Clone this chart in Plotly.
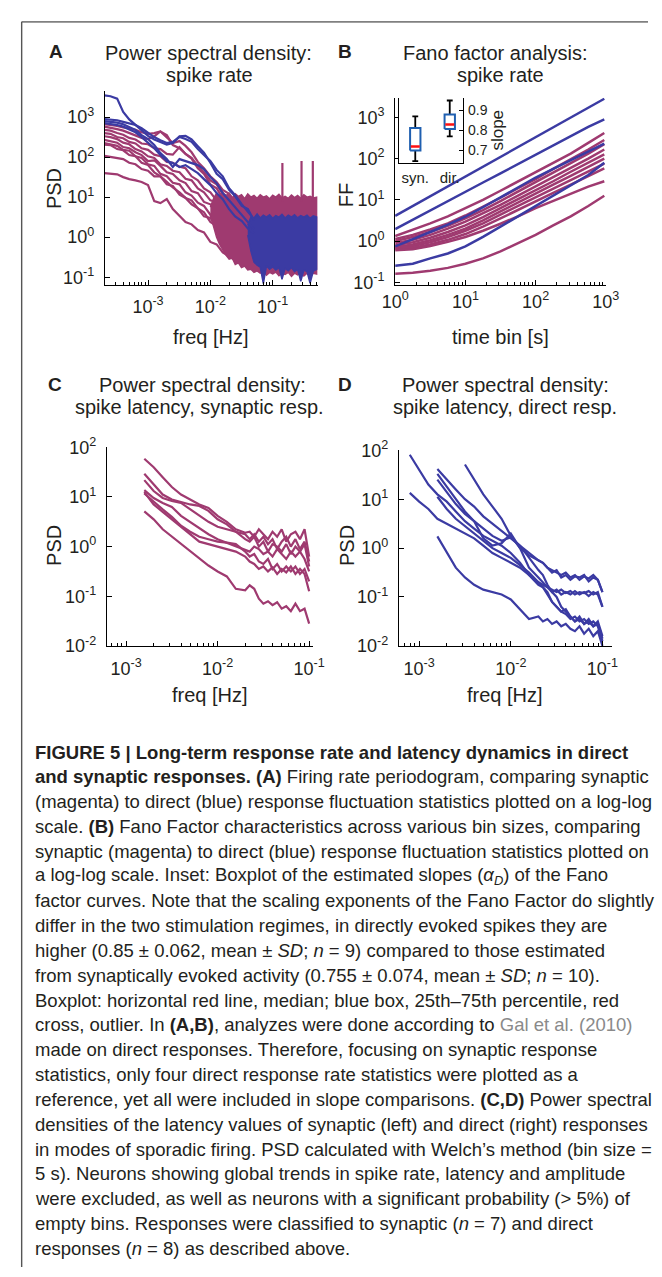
import plotly.graph_objects as go

W, H = 662, 1277
MAG = "#9f3a70"
BLUE = "#3b3ba3"
TXT = "#231f20"
FONT = "Liberation Sans, Arial, sans-serif"
CAP_FONT = "Liberation Sans, Arial, sans-serif"

# ---------------- Panel A: PSD of spike rate (values are log10 PSD) ----------------
freq_a = [2.0e-4, 2.5e-4, 3.2e-4, 4.0e-4, 5.0e-4, 6.3e-4, 7.9e-4, 1.0e-3, 1.26e-3, 1.58e-3,
          2.0e-3, 2.5e-3, 3.2e-3, 4.0e-3, 5.0e-3, 6.3e-3, 7.9e-3, 1.0e-2, 1.26e-2, 1.58e-2,
          2.0e-2, 2.5e-2, 3.2e-2, 4.0e-2, 5.0e-2]
psd_a_syn = [
    [2.82, 2.80, 2.78, 2.74, 2.72, 2.68, 2.62, 2.58, 2.60, 2.64, 2.50, 2.35, 2.40, 2.28, 2.12, 1.88, 1.72, 1.52, 1.38, 1.18, 1.08, 0.88, 0.82, 0.68, 0.62],
    [2.76, 2.74, 2.70, 2.66, 2.60, 2.55, 2.48, 2.45, 2.52, 2.64, 2.55, 2.30, 2.22, 2.08, 1.98, 1.78, 1.62, 1.42, 1.32, 1.08, 1.02, 0.82, 0.78, 0.62, 0.58],
    [2.68, 2.66, 2.60, 2.56, 2.48, 2.44, 2.34, 2.32, 2.22, 2.20, 2.08, 2.06, 2.25, 2.08, 1.96, 1.72, 1.58, 1.32, 1.22, 0.98, 0.88, 0.68, 0.62, 0.48, 0.46],
    [2.60, 2.58, 2.50, 2.47, 2.38, 2.34, 2.22, 2.18, 2.06, 2.02, 1.88, 1.86, 1.76, 1.72, 1.52, 1.42, 1.22, 1.12, 0.92, 0.82, 0.68, 0.62, 0.48, 0.47, 0.38],
    [2.52, 2.50, 2.45, 2.36, 2.32, 2.20, 2.14, 2.02, 1.98, 1.82, 1.78, 1.66, 1.62, 1.46, 1.42, 1.22, 1.12, 0.92, 0.88, 0.72, 0.62, 0.48, 0.47, 0.38, 0.36],
    [2.43, 2.40, 2.36, 2.25, 2.22, 2.12, 2.05, 1.90, 1.92, 1.78, 1.62, 1.58, 1.42, 1.35, 1.15, 1.10, 0.88, 0.82, 0.65, 0.60, 0.42, 0.45, 0.30, 0.35, 0.25],
    [2.35, 2.32, 2.28, 2.18, 2.16, 2.02, 1.98, 1.82, 1.78, 1.58, 1.52, 1.36, 1.32, 1.12, 1.04, 0.86, 0.78, 0.56, 0.52, 0.36, 0.32, 0.22, 0.24, 0.16, 0.18],
    [2.31, 2.30, 2.20, 2.17, 2.05, 2.02, 1.86, 1.80, 1.62, 1.52, 1.32, 1.28, 1.06, 0.98, 0.82, 0.72, 0.52, 0.48, 0.26, 0.22, 0.06, 0.08, -0.04, 0.02, -0.08],
    [2.03, 2.00, 1.98, 1.95, 1.86, 1.82, 1.70, 1.66, 1.52, 1.52, 1.38, 1.24, 1.12, 0.98, 0.92, 0.72, 0.62, 0.38, 0.28, 0.06, 0.02, -0.14, -0.16, -0.24, -0.22],
    [1.60, 1.58, 1.57, 1.50, 1.45, 1.42, 1.38, 1.30, 0.90, 0.85, 0.95, 0.70, 0.52, 0.38, 0.32, 0.18, 0.12, -0.12, -0.18, -0.38, -0.48, -0.58, -0.56, -0.64, -0.62],
]
psd_a_dir = [
    [3.54, 3.52, 3.46, 3.13, 2.94, 2.80, 2.68, 2.53, 2.44, 2.37, 2.31, 2.35, 2.52, 2.53, 2.44, 2.27, 2.11, 1.86, 1.58, 1.45, 1.18, 1.02, 0.78, 0.70, 0.42],
    [2.95, 2.93, 2.92, 2.88, 2.85, 2.80, 2.72, 2.60, 2.50, 2.42, 2.35, 2.38, 2.50, 2.45, 2.38, 2.20, 2.05, 1.90, 1.68, 1.52, 1.22, 1.05, 0.82, 0.62, 0.45],
    [2.90, 2.88, 2.86, 2.82, 2.75, 2.68, 2.55, 2.45, 2.30, 2.10, 1.95, 1.75, 1.95, 1.90, 1.85, 1.80, 1.70, 1.50, 1.35, 1.10, 0.92, 0.75, 0.55, 0.38, 0.20],
    [2.85, 2.83, 2.80, 2.76, 2.70, 2.62, 2.50, 2.35, 2.22, 2.05, 1.90, 1.85, 1.75, 1.80, 1.70, 1.60, 1.45, 1.30, 1.10, 0.95, 0.70, 0.52, 0.40, 0.22, 0.10],
]
# dense high-frequency parts of panel A: envelopes of the noisy band (log10 PSD)
band_freq_syn = [0.0100, 0.0112, 0.0126, 0.0141, 0.0158, 0.0178,
                 0.0200, 0.0224, 0.0251, 0.0282, 0.0316, 0.0355, 0.0398, 0.0447, 0.0501, 0.0562,
                 0.0631, 0.0708, 0.0794, 0.0891, 0.100, 0.112, 0.126, 0.141, 0.158, 0.178,
                 0.200, 0.224, 0.251, 0.282, 0.316, 0.355, 0.398, 0.447, 0.51]
band_syn_hi = [0.75, 0.95, 1.10, 1.02, 1.12, 1.02, 1.10, 0.98, 1.08, 1.02, 1.06,
               0.96, 1.08, 1.00, 1.04, 0.97, 1.06, 1.00, 1.03, 0.96, 1.05, 1.00, 1.07, 0.98, 1.02, 0.97,
               1.05, 0.99, 1.04, 0.97, 1.06, 1.00, 1.02, 0.98, 1.00]
band_syn_lo = [0.55, 0.25, 0.00, -0.18, -0.32, -0.45, -0.55, -0.52, -0.68,
               -0.64, -0.76, -0.72, -0.82, -0.80, -0.88, -0.84, -0.90, -0.86, -0.95, -0.88, -0.92,
               -0.87, -0.96, -0.90, -0.93, -0.88, -0.98, -0.90, -0.94, -0.89, -0.97, -0.90, -0.95,
               -0.90, -0.92]
band_freq_dir = [0.0398, 0.0447, 0.0501, 0.0562, 0.0631, 0.0708, 0.0794, 0.0891, 0.100,
                 0.112, 0.126, 0.141, 0.158, 0.178, 0.200, 0.224, 0.251, 0.282, 0.316, 0.355,
                 0.398, 0.447, 0.51]
band_dir_hi = [0.30, 0.50, 0.48, 0.58, 0.48, 0.55, 0.50, 0.56, 0.47, 0.54, 0.50, 0.57, 0.48,
               0.55, 0.50, 0.56, 0.48, 0.54, 0.50, 0.55, 0.47, 0.53, 0.50]
band_dir_lo = [0.05, -0.35, -0.62, -0.70, -0.75, -1.16, -0.72, -0.80, -0.74, -0.82, -0.76,
               -1.05, -0.78, -0.84, -0.76, -0.86, -0.80, -1.10, -0.82, -0.86, -1.15, -0.85, -0.80]
spike_freq_syn = [0.143, 0.29, 0.44]
spike_top_syn = [1.85, 1.90, 1.90]

# ---------------- Panel B: Fano factor (log10 FF) ----------------
time_b = [1.0, 1.78, 3.16, 5.62, 10.0, 17.8, 31.6, 56.2, 100, 178, 316, 562, 950]
ff_syn = [
    [0.12, 0.27, 0.43, 0.60, 0.80, 1.00, 1.22, 1.45, 1.68, 1.90, 2.12, 2.38, 2.62],
    [0.05, 0.15, 0.28, 0.43, 0.62, 0.83, 1.05, 1.28, 1.50, 1.75, 1.98, 2.22, 2.45],
    [0.00, 0.10, 0.22, 0.37, 0.55, 0.75, 0.97, 1.20, 1.42, 1.65, 1.88, 2.12, 2.35],
    [-0.05, 0.03, 0.15, 0.30, 0.47, 0.67, 0.88, 1.10, 1.32, 1.55, 1.78, 2.00, 2.22],
    [-0.10, -0.03, 0.08, 0.22, 0.38, 0.58, 0.80, 1.02, 1.22, 1.45, 1.68, 1.90, 2.10],
    [-0.15, -0.08, 0.02, 0.15, 0.30, 0.50, 0.72, 0.93, 1.15, 1.37, 1.58, 1.80, 2.00],
    [-0.17, -0.12, -0.03, 0.10, 0.25, 0.43, 0.64, 0.85, 1.05, 1.27, 1.48, 1.68, 1.88],
    [-0.20, -0.16, -0.08, 0.03, 0.17, 0.35, 0.55, 0.76, 0.96, 1.17, 1.37, 1.57, 1.76],
    [-0.22, -0.20, -0.12, -0.02, 0.10, 0.25, 0.42, 0.60, 0.80, 0.98, 1.15, 1.32, 1.45],
    [-0.79, -0.77, -0.72, -0.65, -0.55, -0.42, -0.25, -0.05, 0.15, 0.38, 0.60, 0.85, 1.10],
]
ff_dir = [
    [0.61, 0.85, 1.09, 1.32, 1.56, 1.80, 2.04, 2.28, 2.52, 2.76, 2.99, 3.23, 3.45],
    [0.29, 0.52, 0.74, 0.97, 1.19, 1.42, 1.64, 1.87, 2.09, 2.32, 2.54, 2.77, 2.95],
    [-0.13, 0.04, 0.22, 0.40, 0.59, 0.82, 1.06, 1.30, 1.54, 1.75, 1.96, 2.17, 2.36],
    [-0.60, -0.55, -0.42, -0.30, -0.13, 0.10, 0.35, 0.60, 0.87, 1.10, 1.35, 1.60, 1.90],
]
# inset boxplot of slopes
slope_groups = ["syn.", "dir."]
slope_lo = [0.646, 0.770]
slope_q1 = [0.700, 0.807]
slope_med = [0.720, 0.830]
slope_q3 = [0.812, 0.880]
slope_hi = [0.870, 0.950]

# ---------------- Panel C: latency PSD, synaptic (log10 PSD) ----------------
freq_c = [0.00158, 0.0020, 0.00251, 0.00316, 0.00398, 0.00501, 0.00631, 0.00794, 0.0100,
          0.0126, 0.0158, 0.0200, 0.0224, 0.0251, 0.0282, 0.0316, 0.0355, 0.0398, 0.0447,
          0.0501, 0.0562, 0.0631, 0.0708, 0.0794, 0.0891, 0.100]
psd_c = [
    [1.77, 1.60, 1.40, 1.20, 1.05, 0.95, 0.85, 0.78, 0.62, 0.50, 0.35, 0.28, 0.30, 0.20, 0.35, 0.25, 0.15, 0.30, 0.20, 0.35, 0.10, 0.25, 0.30, 0.15, 0.35, -0.20],
    [1.47, 1.25, 1.05, 0.95, 0.90, 0.85, 0.82, 0.72, 0.55, 0.45, 0.30, 0.25, 0.15, 0.25, 0.10, 0.20, 0.05, 0.15, -0.05, 0.10, 0.20, 0.00, 0.15, -0.05, 0.10, -0.30],
    [1.34, 1.12, 0.98, 0.92, 0.88, 0.75, 0.62, 0.50, 0.40, 0.35, 0.30, 0.15, 0.10, 0.20, 0.00, 0.10, -0.10, 0.05, 0.00, -0.10, 0.05, -0.15, 0.00, -0.10, 0.05, -0.40],
    [1.14, 0.98, 0.88, 0.80, 0.62, 0.50, 0.38, 0.25, 0.15, 0.08, 0.02, -0.05, -0.10, 0.00, -0.05, -0.15, -0.10, -0.20, -0.05, -0.15, -0.25, -0.10, -0.20, -0.10, -0.25, -0.50],
    [1.07, 0.90, 0.75, 0.60, 0.42, 0.30, 0.20, 0.15, 0.10, 0.08, 0.05, -0.10, -0.20, -0.15, -0.30, -0.35, -0.25, -0.45, -0.35, -0.50, -0.40, -0.50, -0.40, -0.55, -0.45, -0.70],
    [1.10, 0.85, 0.70, 0.55, 0.40, 0.25, 0.10, 0.05, 0.00, -0.05, -0.10, -0.20, -0.30, -0.35, -0.45, -0.40, -0.50, -0.42, -0.55, -0.45, -0.52, -0.40, -0.55, -0.45, -0.55, -0.90],
    [0.71, 0.55, 0.35, 0.20, 0.05, -0.10, -0.25, -0.38, -0.50, -0.60, -0.85, -0.88, -0.78, -0.85, -1.05, -1.15, -1.10, -1.18, -1.12, -1.25, -1.20, -1.30, -1.15, -1.30, -1.25, -1.55],
]

# ---------------- Panel D: latency PSD, direct (log10 PSD) ----------------
freq_d = [0.00079, 0.0010, 0.00126, 0.00158, 0.0020, 0.00251, 0.00316, 0.00398, 0.00501,
          0.00631, 0.00794, 0.0100, 0.0126, 0.0158, 0.0200, 0.0224, 0.0251, 0.0282, 0.0316,
          0.0355, 0.0398, 0.0447, 0.0501, 0.0562, 0.0631, 0.0708, 0.0794, 0.0891, 0.100]
N = None
psd_d = [
    [1.91, 1.60, 1.30, 1.10, 0.95, 0.75, 0.55, 0.40, 0.25, 0.15, 0.05, -0.10, -0.30, -0.55, -0.75, -0.80, -0.95, -1.10, -1.20, -1.30, -1.25, -1.40, -1.50, -1.40, -1.55, -1.45, -1.60, -1.50, -1.80],
    [1.13, 0.95, 0.80, 0.60, 0.50, 0.40, 0.30, 0.20, 0.05, -0.10, -0.20, -0.30, -0.40, -0.55, -0.70, -0.75, -0.80, -0.90, -0.85, -0.95, -0.90, -0.95, -0.88, -0.95, -0.90, -0.98, -0.90, -0.95, -1.20],
    [N, N, N, 1.62, 1.40, 1.20, 1.00, 0.85, 0.65, 0.50, 0.35, 0.20, 0.05, -0.10, -0.25, -0.30, -0.40, -0.45, -0.50, -0.55, -0.50, -0.60, -0.55, -0.65, -0.58, -0.62, -0.55, -0.65, -0.90],
    [N, N, N, 1.52, 1.25, 1.00, 0.75, 0.55, 0.40, 0.25, 0.15, 0.22, 0.05, -0.20, -0.45, -0.55, -0.75, -0.90, -1.00, -1.20, -1.30, -1.40, -1.50, -1.45, -1.55, -1.50, -1.60, -1.55, -1.85],
    [N, N, N, 0.24, -0.10, -0.40, -0.60, -0.75, -0.85, -0.90, -0.95, -1.05, -1.25, -1.45, -1.40, -1.50, -1.45, -1.55, -1.50, -1.60, -1.55, -1.65, -1.70, -1.60, -1.75, -1.65, -1.80, -1.70, -2.00],
    [N, N, N, N, N, N, 1.71, 1.40, 1.10, 0.85, 0.60, 0.25, 0.00, -0.15, -0.25, -0.30, -0.40, -0.50, -0.45, -0.60, -0.55, -0.65, -0.58, -0.60, -0.55, -0.68, -0.60, -0.65, -0.90],
    [N, N, N, 1.40, 1.15, 0.90, 0.70, 0.55, 0.20, 0.05, 0.10, 0.30, 0.00, -0.40, -0.60, -0.70, -0.80, -0.85, -0.90, -0.85, -0.92, -0.88, -0.95, -0.90, -0.92, -0.88, -0.95, -0.90, -1.20],
    [N, N, N, 1.05, 0.80, 0.60, 0.45, 0.30, 0.15, 0.00, -0.10, -0.20, -0.35, -0.50, -0.70, -0.80, -0.90, -1.10, -1.20, -1.30, -1.35, -1.45, -1.40, -1.50, -1.45, -1.55, -1.50, -1.60, -1.90],
]


def lin(vals):
    return [None if v is None else 10 ** v for v in vals]


def px(x):
    return x / W


def py(y):
    return 1 - y / H


fig = go.Figure()

# ---- Panel A traces ----
for tr in psd_a_syn:
    fig.add_trace(go.Scatter(x=freq_a, y=lin(tr), mode="lines", line=dict(color=MAG, width=2.2),
                             xaxis="x", yaxis="y", showlegend=False))
fig.add_trace(go.Scatter(x=band_freq_syn + band_freq_syn[::-1], y=lin(band_syn_hi + band_syn_lo[::-1]),
                         mode="lines", fill="toself", fillcolor=MAG, line=dict(color=MAG, width=1.5),
                         xaxis="x", yaxis="y", showlegend=False))
sx, sy = [], []
for f, t in zip(spike_freq_syn, spike_top_syn):
    sx += [f, f, None]
    sy += [10 ** 0.9, 10 ** t, None]
fig.add_trace(go.Scatter(x=sx, y=sy, mode="lines", line=dict(color=MAG, width=2.2),
                         xaxis="x", yaxis="y", showlegend=False))
fig.add_trace(go.Scatter(x=band_freq_dir + band_freq_dir[::-1], y=lin(band_dir_hi + band_dir_lo[::-1]),
                         mode="lines", fill="toself", fillcolor=BLUE, line=dict(color=BLUE, width=1.5),
                         xaxis="x", yaxis="y", showlegend=False))
for tr in psd_a_dir:
    fig.add_trace(go.Scatter(x=freq_a, y=lin(tr), mode="lines", line=dict(color=BLUE, width=2.2),
                             xaxis="x", yaxis="y", showlegend=False))

# ---- Panel B traces ----
for tr in ff_syn:
    fig.add_trace(go.Scatter(x=time_b, y=lin(tr), mode="lines", line=dict(color=MAG, width=2.5),
                             xaxis="x2", yaxis="y2", showlegend=False))
for tr in ff_dir:
    fig.add_trace(go.Scatter(x=time_b, y=lin(tr), mode="lines", line=dict(color=BLUE, width=2.5),
                             xaxis="x2", yaxis="y2", showlegend=False))

# ---- Inset boxplot ----
HW, CW = 0.15, 0.085
for i in range(len(slope_groups)):
    c = i + 1
    fig.add_trace(go.Scatter(x=[c, c, None, c, c, None, c - CW, c + CW, None, c - CW, c + CW],
                             y=[slope_q3[i], slope_hi[i], None, slope_q1[i], slope_lo[i], None,
                                slope_hi[i], slope_hi[i], None, slope_lo[i], slope_lo[i]],
                             mode="lines", line=dict(color="black", width=1.8),
                             xaxis="x3", yaxis="y3", showlegend=False))
    fig.add_trace(go.Scatter(x=[c - HW, c + HW, c + HW, c - HW, c - HW],
                             y=[slope_q1[i], slope_q1[i], slope_q3[i], slope_q3[i], slope_q1[i]],
                             mode="lines", fill="toself", fillcolor="white",
                             line=dict(color="#1f5fb0", width=2),
                             xaxis="x3", yaxis="y3", showlegend=False))
    fig.add_trace(go.Scatter(x=[c - HW + 0.02, c + HW - 0.02], y=[slope_med[i], slope_med[i]],
                             mode="lines", line=dict(color="#ff1010", width=2.5),
                             xaxis="x3", yaxis="y3", showlegend=False))

# ---- Panel C traces ----
for tr in psd_c:
    fig.add_trace(go.Scatter(x=freq_c, y=lin(tr), mode="lines", line=dict(color=MAG, width=2.2),
                             xaxis="x4", yaxis="y4", showlegend=False))
# ---- Panel D traces ----
for tr in psd_d:
    fig.add_trace(go.Scatter(x=freq_d, y=lin(tr), mode="lines", line=dict(color=BLUE, width=2.2),
                             xaxis="x5", yaxis="y5", showlegend=False))


def sup(e):
    return "10<sup>%d</sup>" % e


def minor_vals(e0, e1, lo, hi):
    return [m * 10.0 ** e for e in range(e0, e1) for m in range(2, 10) if lo <= m * 10.0 ** e <= hi]


base = dict(showline=True, linecolor="black", linewidth=1.2, ticks="inside", ticklen=5,
            tickcolor="black", tickwidth=1, showgrid=False, zeroline=False,
            tickfont=dict(family=FONT, size=18, color=TXT))


def logx(domain, anchor, rng, exps, standoff, minors):
    d = dict(base)
    d.update(type="log", domain=domain, anchor=anchor, range=rng,
             tickvals=[10.0 ** e for e in exps], ticktext=[sup(e) for e in exps],
             ticklabelstandoff=standoff,
             minor=dict(tickvals=minors, ticks="inside", ticklen=3, tickcolor="black", showgrid=False))
    return d


def logy(domain, anchor, rng, exps):
    d = dict(base)
    d.update(type="log", domain=domain, anchor=anchor, range=rng,
             tickvals=[10.0 ** e for e in exps], ticktext=[sup(e) for e in exps],
             ticklabelstandoff=6)
    return d


fig.update_layout(
    width=W, height=H, autosize=False,
    margin=dict(l=0, r=0, t=0, b=0),
    paper_bgcolor="white", plot_bgcolor="white",
    showlegend=False,
    xaxis=logx([px(95), px(317)], "y", [-3.69, -0.28], [-3, -2, -1], 5, minor_vals(-4, 0, 2.05e-4, 0.52)),
    yaxis=logy([py(278), py(80)], "x", [-1.2, 3.66], [-1, 0, 1, 2, 3]),
    xaxis2=logx([px(398), px(618)], "y2", [0, 3], [0, 1, 2, 3], 0, minor_vals(0, 3, 1, 1000)),
    yaxis2=logy([py(278), py(87)], "x2", [-1.07, 3.48], [-1, 0, 1, 2, 3]),
    xaxis3=dict(domain=[px(402), px(469)], anchor="y3", range=[0.528, 2.389], showline=True,
                linecolor="black", linewidth=1.2, ticks="", showgrid=False, zeroline=False,
                tickvals=[1, 2], ticktext=slope_groups, ticklabelstandoff=1,
                tickfont=dict(family=FONT, size=15, color=TXT)),
    yaxis3=dict(domain=[py(154), py(87)], anchor="x3", side="right", range=[0.635, 0.965],
                showline=True, mirror=True, linecolor="black", linewidth=1.2, ticks="inside",
                ticklen=4, tickcolor="black", showgrid=False, zeroline=False,
                tickvals=[0.7, 0.8, 0.9], ticktext=["0.7", "0.8", "0.9"], ticklabelstandoff=1,
                tickfont=dict(family=FONT, size=14, color=TXT)),
    xaxis4=logx([px(97), px(312)], "y4", [-3.21, -0.96], [-3, -2, -1], 6, minor_vals(-4, 0, 6.2e-4, 0.105)),
    yaxis4=logy([py(645), py(443)], "x4", [-2, 2], [-2, -1, 0, 1, 2]),
    xaxis5=logx([px(402), px(624)], "y5", [-3.22, -0.9], [-3, -2, -1], 6, minor_vals(-4, 0, 6.1e-4, 0.125)),
    yaxis5=logy([py(645), py(446)], "x5", [-2, 2], [-2, -1, 0, 1, 2]),
)

ann = []


def text(x, y, s, size=20, bold=False, rot=0, anchor="center", font=FONT, color=TXT):
    ann.append(dict(x=px(x), y=py(y), xref="paper", yref="paper", text=("<b>%s</b>" % s) if bold else s,
                    showarrow=False, xanchor=anchor, yanchor="middle", textangle=rot,
                    font=dict(family=font, size=size, color=color)))


# panel letters and titles
text(44, 40, "A", 19, bold=True)
text(203, 42, "Power spectral density:")
text(204, 64, "spike rate")
text(346, 40, "B", 19, bold=True)
text(503, 42, "Fano factor analysis:")
text(508, 64, "spike rate")
text(43, 379, "C", 19, bold=True)
text(197, 380, "Power spectral density:")
text(194, 402, "spike latency, synaptic resp.")
text(346, 379, "D", 19, bold=True)
text(513, 380, "Power spectral density:")
text(513, 402, "spike latency, direct resp.")
# axis titles
text(206, 331, "freq [Hz]")
text(42, 180, "PSD", rot=-90)
text(508, 331, "time bin [s]")
text(346, 186, "FF", rot=-90)
text(505, 120, "slope", 17, rot=-90)
text(205, 695, "freq [Hz]")
text(41, 543, "PSD", rot=-90)
text(513, 695, "freq [Hz]")
text(347, 543, "PSD", rot=-90)

caption = [
    "<b>FIGURE 5 | Long-term response rate and latency dynamics in direct</b>",
    "<b>and synaptic responses. (A)</b> Firing rate periodogram, comparing synaptic",
    "(magenta) to direct (blue) response fluctuation statistics plotted on a log-log",
    "scale. <b>(B)</b> Fano Factor characteristics across various bin sizes, comparing",
    "synaptic (magenta) to direct (blue) response fluctuation statistics plotted on",
    "a log-log scale. Inset: Boxplot of the estimated slopes (<i>α</i><sub><i>D</i></sub>) of the Fano",
    "factor curves. Note that the scaling exponents of the Fano Factor do slightly",
    "differ in the two stimulation regimes, in directly evoked spikes they are",
    "higher (0.85 ± 0.062, mean ± <i>SD</i>; <i>n</i> = 9) compared to those estimated",
    "from synaptically evoked activity (0.755 ± 0.074, mean ± <i>SD</i>; <i>n</i> = 10).",
    "Boxplot: horizontal red line, median; blue box, 25th–75th percentile, red",
    "cross, outlier. In <b>(A,B)</b>, analyzes were done according to <span style='color:#8a8a8a'>Gal et al. (2010)</span>",
    "made on direct responses. Therefore, focusing on synaptic response",
    "statistics, only four direct response rate statistics were plotted as a",
    "reference, yet all were included in slope comparisons. <b>(C,D)</b> Power spectral",
    "densities of the latency values of synaptic (left) and direct (right) responses",
    "in modes of sporadic firing. PSD calculated with Welch’s method (bin size =",
    "5 s). Neurons showing global trends in spike rate, latency and amplitude",
    "were excluded, as well as neurons with a significant probability (&gt; 5%) of",
    "empty bins. Responses were classified to synaptic (<i>n</i> = 7) and direct",
    "responses (<i>n</i> = 8) as described above.",
]
for i, line in enumerate(caption):
    text(20, 753 + 25.25 * i, line, 18.5, anchor="left", font=CAP_FONT)

fig.update_layout(annotations=ann)
fig.update_layout(shapes=[
    dict(type="line", xref="paper", yref="paper", x0=px(8), x1=1, y0=py(10), y1=py(10),
         line=dict(color="#808080", width=1.6)),
    dict(type="line", xref="paper", yref="paper", x0=px(8), x1=px(8), y0=0, y1=py(10),
         line=dict(color="#555555", width=1.4)),
])

fig.write_html("out.html", config={"displayModeBar": False},
               post_script="document.body.style.margin='0';document.body.style.padding='0';")
